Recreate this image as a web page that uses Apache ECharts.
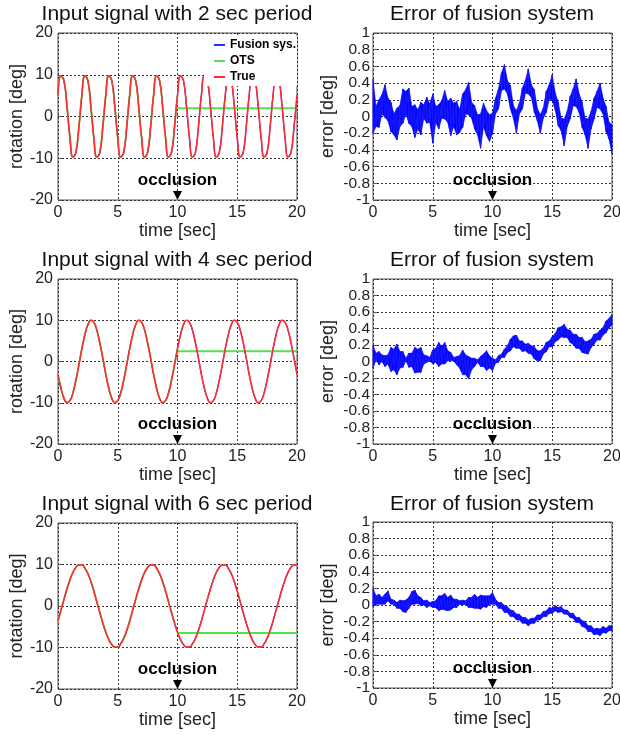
<!DOCTYPE html>
<html>
<head>
<meta charset="utf-8">
<title>Fusion system</title>
<script src="https://cdn.jsdelivr.net/npm/echarts@6/dist/echarts.min.js"></script>
<style>
html, body { margin: 0; padding: 0; background: #fff; }
#main { width: 620px; height: 735px; }
</style>
</head>
<body>
<div id="main"></div>
<script>
// samples every 0.25 s from 0 to 20 s
var sampleStep = 0.25;
var occlusionTime = 10;

// true rotation [deg]
var true2s = [
    5.1, 9.7, 8.6, 2.5, -5.1, -9.7, -8.6, -2.5,
    5.1, 9.7, 8.6, 2.5, -5.1, -9.7, -8.6, -2.5,
    5.1, 9.7, 8.6, 2.5, -5.1, -9.7, -8.6, -2.5,
    5.1, 9.7, 8.6, 2.5, -5.1, -9.7, -8.6, -2.5,
    5.1, 9.7, 8.6, 2.5, -5.1, -9.7, -8.6, -2.5,
    5.1, 9.7, 8.6, 2.5, -5.1, -9.7, -8.6, -2.5,
    5.1, 9.7, 8.6, 2.5, -5.1, -9.7, -8.6, -2.5,
    5.1, 9.7, 8.6, 2.5, -5.1, -9.7, -8.6, -2.5,
    5.1, 9.7, 8.6, 2.5, -5.1, -9.7, -8.6, -2.5,
    5.1, 9.7, 8.6, 2.5, -5.1, -9.7, -8.6, -2.5,
    5.1
];
var true4s = [
    -3.1, -6.5, -8.9, -10.0, -9.5, -7.6, -4.5, -0.8, 3.1, 6.5, 8.9, 10.0, 9.5, 7.6, 4.5, 0.8,
    -3.1, -6.5, -8.9, -10.0, -9.5, -7.6, -4.5, -0.8, 3.1, 6.5, 8.9, 10.0, 9.5, 7.6, 4.5, 0.8,
    -3.1, -6.5, -8.9, -10.0, -9.5, -7.6, -4.5, -0.8, 3.1, 6.5, 8.9, 10.0, 9.5, 7.6, 4.5, 0.8,
    -3.1, -6.5, -8.9, -10.0, -9.5, -7.6, -4.5, -0.8, 3.1, 6.5, 8.9, 10.0, 9.5, 7.6, 4.5, 0.8,
    -3.1, -6.5, -8.9, -10.0, -9.5, -7.6, -4.5, -0.8, 3.1, 6.5, 8.9, 10.0, 9.5, 7.6, 4.5, 0.8,
    -3.1
];
var true6s = [
    -3.6, -1.0, 1.6, 4.1, 6.3, 8.1, 9.3, 9.9, 9.9, 9.1, 7.8, 5.9,
    3.6, 1.0, -1.6, -4.1, -6.3, -8.1, -9.3, -9.9, -9.9, -9.1, -7.8, -5.9,
    -3.6, -1.0, 1.6, 4.1, 6.3, 8.1, 9.3, 9.9, 9.9, 9.1, 7.8, 5.9,
    3.6, 1.0, -1.6, -4.1, -6.3, -8.1, -9.3, -9.9, -9.9, -9.1, -7.8, -5.9,
    -3.6, -1.0, 1.6, 4.1, 6.3, 8.1, 9.3, 9.9, 9.9, 9.1, 7.8, 5.9,
    3.6, 1.0, -1.6, -4.1, -6.3, -8.1, -9.3, -9.9, -9.9, -9.1, -7.8, -5.9,
    -3.6, -1.0, 1.6, 4.1, 6.3, 8.1, 9.3, 9.9, 9.9
];
// value the OTS keeps after the occlusion starts
var otsHold = [2.0, 2.5, -6.5];

// error of fusion system [deg]: upper / lower edge of the noise band
var err2sHi = [
    0.45, 0.12, 0.20, 0.26, 0.38, 0.22, 0.17, 0.03,
    0.10, 0.13, 0.33, 0.30, 0.34, 0.12, 0.14, 0.08,
    0.17, 0.14, 0.23, 0.15, 0.27, 0.12, 0.14, 0.19,
    0.31, 0.18, 0.22, 0.16, 0.18, 0.08, 0.27, 0.32,
    0.41, 0.17, 0.13, 0.02, 0.03, 0.16, 0.07, 0.02,
    0.04, 0.22, 0.33, 0.52, 0.62, 0.43, 0.37, 0.13,
    0.07, 0.16, 0.34, 0.43, 0.57, 0.38, 0.32, 0.10,
    0.02, 0.10, 0.30, 0.38, 0.50, 0.28, 0.17, -0.02,
    -0.03, 0.06, 0.24, 0.33, 0.45, 0.27, 0.17, -0.02,
    -0.03, 0.06, 0.22, 0.30, 0.40, 0.22, 0.12, -0.07,
    -0.10
];
var err2sLo = [
    -0.20, -0.12, -0.13, 0.03, -0.01, -0.05, -0.18, -0.22,
    -0.28, -0.12, -0.08, 0.03, -0.08, -0.12, -0.25, -0.15,
    -0.22, -0.02, -0.08, -0.07, -0.32, -0.07, -0.15, -0.02,
    -0.03, -0.07, -0.23, -0.12, -0.22, -0.19, -0.13, 0.03,
    0.02, -0.02, -0.15, -0.22, -0.38, -0.12, -0.23, -0.30,
    -0.20, 0.03, 0.09, 0.31, 0.33, 0.27, 0.09, -0.02,
    -0.20, 0.03, 0.09, 0.28, 0.27, 0.23, 0.05, -0.05,
    -0.20, -0.02, 0.05, 0.21, 0.19, 0.08, -0.11, -0.17,
    -0.35, -0.12, -0.03, 0.13, 0.12, 0.05, -0.13, -0.22,
    -0.38, -0.15, -0.03, 0.11, 0.09, 0.03, -0.18, -0.27,
    -0.45
];
var err4sHi = [
    0.20, 0.10, 0.12, 0.08, 0.07, 0.08, 0.17, 0.15,
    0.21, 0.12, 0.12, 0.04, 0.10, 0.10, 0.17, 0.15,
    0.17, 0.08, 0.07, 0.05, 0.14, 0.16, 0.23, 0.18,
    0.23, 0.13, 0.11, 0.05, 0.06, 0.07, 0.14, 0.08,
    0.06, 0.04, 0.04, 0.02, 0.06, 0.09, 0.13, 0.07,
    0.04, 0.02, 0.07, 0.09, 0.15, 0.19, 0.27, 0.31,
    0.32, 0.25, 0.25, 0.21, 0.22, 0.19, 0.18, 0.13,
    0.13, 0.16, 0.23, 0.25, 0.30, 0.34, 0.41, 0.42,
    0.45, 0.39, 0.38, 0.33, 0.33, 0.29, 0.29, 0.24,
    0.25, 0.27, 0.33, 0.34, 0.38, 0.41, 0.49, 0.52,
    0.57
];
var err4sLo = [
    -0.08, 0.02, -0.04, 0.00, -0.06, -0.03, -0.12, -0.10,
    -0.16, -0.08, -0.07, 0.01, -0.07, -0.06, -0.14, -0.13,
    -0.13, -0.03, -0.01, 0.01, -0.03, -0.01, -0.06, -0.03,
    -0.03, 0.01, 0.01, 0.01, -0.04, -0.08, -0.16, -0.16,
    -0.21, -0.10, -0.06, -0.01, -0.06, -0.06, -0.11, -0.08,
    -0.11, -0.02, -0.01, 0.05, 0.05, 0.11, 0.13, 0.18,
    0.16, 0.16, 0.12, 0.13, 0.10, 0.09, 0.03, 0.01,
    0.01, 0.09, 0.12, 0.18, 0.18, 0.24, 0.26, 0.30,
    0.29, 0.29, 0.23, 0.21, 0.16, 0.16, 0.11, 0.10,
    0.09, 0.17, 0.21, 0.26, 0.26, 0.32, 0.35, 0.41,
    0.44
];
var err6sHi = [
    0.20, 0.11, 0.13, 0.09, 0.13, 0.17, 0.07, 0.06,
    0.03, 0.06, 0.05, 0.06, 0.09, 0.16, 0.18, 0.11,
    0.09, 0.05, 0.06, 0.03, 0.04, 0.05, 0.11, 0.11,
    0.14, 0.09, 0.12, 0.07, 0.07, 0.05, 0.06, 0.05,
    0.09, 0.09, 0.13, 0.09, 0.12, 0.11, 0.11, 0.11,
    0.15, 0.07, 0.03, 0.03, -0.01, -0.02, -0.06, -0.07,
    -0.11, -0.11, -0.15, -0.15, -0.18, -0.16, -0.16, -0.12,
    -0.12, -0.08, -0.07, -0.03, -0.04, -0.01, -0.03, -0.02,
    -0.06, -0.06, -0.10, -0.10, -0.15, -0.15, -0.19, -0.20,
    -0.25, -0.25, -0.29, -0.28, -0.29, -0.26, -0.28, -0.25,
    -0.25
];
var err6sLo = [
    -0.02, 0.01, 0.01, 0.01, 0.01, 0.05, 0.01, 0.01,
    -0.04, -0.04, -0.08, -0.09, -0.04, 0.01, 0.01, 0.02,
    -0.01, 0.00, -0.03, -0.01, -0.03, -0.03, -0.07, -0.05,
    -0.06, -0.07, -0.06, -0.03, -0.03, 0.01, 0.00, 0.01,
    -0.03, -0.03, -0.04, -0.04, -0.05, -0.02, -0.03, 0.01,
    0.01, 0.01, -0.04, -0.04, -0.09, -0.09, -0.14, -0.14,
    -0.18, -0.18, -0.22, -0.22, -0.25, -0.22, -0.22, -0.18,
    -0.18, -0.14, -0.14, -0.10, -0.10, -0.07, -0.09, -0.08,
    -0.11, -0.11, -0.15, -0.16, -0.21, -0.21, -0.26, -0.27,
    -0.32, -0.32, -0.36, -0.35, -0.37, -0.33, -0.34, -0.31,
    -0.31
];

var titles = [
    'Input signal with 2 sec period', 'Error of fusion system',
    'Input signal with 4 sec period', 'Error of fusion system',
    'Input signal with 6 sec period', 'Error of fusion system'
];
var legendNames = ['Fusion sys.', 'OTS', 'True'];
var xTicks = { min: 0, max: 20, interval: 5 };
var rotTicks = { min: -20, max: 20, interval: 10 };
var errTicks = { min: -1, max: 1, interval: 0.2 };

var FONT = 'Liberation Sans, Arial, Helvetica, sans-serif';
var BLUE = '#2b2bff', GREEN = '#4fe34f', RED = '#ff2d2d';

var times = true2s.map(function (v, i) { return i * sampleStep; });

function pairs(ys) {
    return ys.map(function (v, i) { return [times[i], v]; });
}
function beforeOcclusion(ys) {
    var out = [];
    ys.forEach(function (v, i) {
        if (times[i] <= occlusionTime) out.push([times[i], v]);
    });
    return out;
}
// noise: go down and up between the two edges at every sample
function zigzag(hi, lo) {
    var out = [];
    hi.forEach(function (v, i) {
        out.push([times[i], v]);
        out.push([times[i], lo[i]]);
    });
    return out;
}
// one quad of the filled band per sample step
function bandCells(hi, lo) {
    var out = [];
    for (var i = 0; i < hi.length - 1; i++) {
        out.push([times[i], hi[i], lo[i], times[i + 1], hi[i + 1], lo[i + 1]]);
    }
    return out;
}
function renderBand(params, api) {
    var a = api.coord([api.value(0), api.value(1)]);
    var b = api.coord([api.value(3), api.value(4)]);
    var c = api.coord([api.value(3), api.value(5)]);
    var d = api.coord([api.value(0), api.value(2)]);
    return {
        type: 'polygon',
        shape: { points: [a, b, c, d] },
        style: { fill: '#0000ff', stroke: '#0000ff', lineWidth: 0.6 }
    };
}

var myChart = echarts.init(document.getElementById('main'));

var gridBoxes = [
    { left: 58, top: 33, height: 167 }, { left: 373, top: 33, height: 167 },
    { left: 58, top: 279, height: 165 }, { left: 373, top: 279, height: 165 },
    { left: 58, top: 523, height: 166 }, { left: 373, top: 522, height: 166 }
];
var titleTops = [4, 4, 250, 250, 494, 494];

function occlusionMark(y) {
    return {
        silent: true,
        symbol: 'path://M0,0 L10,0 L5,10 Z',
        symbolSize: [9, 9],
        itemStyle: { color: '#000' },
        label: {
            show: true, position: 'top', distance: 2, formatter: 'occlusion',
            color: '#000', fontWeight: 'bold', fontSize: 17, fontFamily: FONT
        },
        data: [{ coord: [occlusionTime, y] }]
    };
}

function lineSeries(name, k, data, color, width, smooth) {
    return {
        name: name, type: 'line', xAxisIndex: k, yAxisIndex: k,
        data: data, smooth: smooth, showSymbol: false, silent: true,
        lineStyle: { color: color, width: width },
        itemStyle: { color: color }
    };
}

var truths = [true2s, true4s, true6s];
var errHi = [err2sHi, err4sHi, err6sHi];
var errLo = [err2sLo, err4sLo, err6sLo];

var series = [];
for (var r = 0; r < 3; r++) {
    var kl = r * 2, kr = r * 2 + 1;
    series.push(lineSeries('Fusion sys.', kl, pairs(truths[r]), BLUE, 1.2, true));
    series.push(lineSeries('OTS', kl, beforeOcclusion(truths[r]), GREEN, 1.6, true));
    series.push(lineSeries('OTS', kl, [[occlusionTime, otsHold[r]], [times[times.length - 1], otsHold[r]]], GREEN, 2, false));
    var tr = lineSeries('True', kl, pairs(truths[r]), RED, 1.6, true);
    tr.markPoint = occlusionMark(-18.9);
    series.push(tr);
    series.push({
        name: 'Error band', type: 'custom', xAxisIndex: kr, yAxisIndex: kr,
        coordinateSystem: 'cartesian2d', silent: true, clip: true,
        encode: { x: [0, 3], y: [1, 2, 4, 5] },
        renderItem: renderBand,
        data: bandCells(errHi[r], errLo[r])
    });
    var er = lineSeries('Error', kr, zigzag(errHi[r], errLo[r]), '#1a1aff', 1, false);
    er.markPoint = occlusionMark(-0.946);
    series.push(er);
}

var axisText = { color: '#222', fontFamily: FONT };

var option = {
    animation: false,
    backgroundColor: '#fff',
    title: titles.map(function (t, k) {
        return {
            text: t,
            left: k % 2 === 0 ? 177 : 492,
            top: titleTops[k],
            textAlign: 'center',
            padding: 0,
            textStyle: { fontSize: 21, fontWeight: 'normal', color: '#111', fontFamily: FONT }
        };
    }),
    legend: {
        data: legendNames,
        orient: 'vertical',
        left: 204,
        top: 36,
        padding: [3, 1, 3, 10],
        itemGap: 4,
        itemWidth: 11,
        itemHeight: 2,
        icon: 'rect',
        selectedMode: false,
        backgroundColor: '#fff',
        textStyle: { fontSize: 12, fontWeight: 'bold', color: '#000', fontFamily: FONT }
    },
    grid: gridBoxes.map(function (g) {
        return {
            left: g.left, top: g.top, width: 239, height: g.height,
            show: true, borderColor: '#555', borderWidth: 1, backgroundColor: '#fff',
            containLabel: false, outerBoundsMode: 'none'
        };
    }),
    xAxis: gridBoxes.map(function (g, k) {
        return {
            type: 'value', gridIndex: k,
            min: xTicks.min, max: xTicks.max, interval: xTicks.interval,
            name: 'time [sec]', nameLocation: 'middle', nameGap: 22,
            nameTextStyle: { fontSize: 18, color: '#222', fontFamily: FONT },
            axisLine: { show: false },
            axisTick: { show: true, inside: true, length: 4, lineStyle: { color: '#555' } },
            axisLabel: Object.assign({ fontSize: 16, margin: 5 }, axisText),
            splitLine: { show: true, lineStyle: { color: '#333', width: 1, type: [2, 2] } }
        };
    }),
    yAxis: gridBoxes.map(function (g, k) {
        var isErr = k % 2 === 1;
        var ticks = isErr ? errTicks : rotTicks;
        return {
            type: 'value', gridIndex: k,
            min: ticks.min, max: ticks.max, interval: ticks.interval,
            name: isErr ? 'error [deg]' : 'rotation [deg]',
            nameLocation: 'middle', nameGap: isErr ? 36 : 23,
            nameTextStyle: { fontSize: 18, color: '#222', fontFamily: FONT },
            axisLine: { show: false },
            axisTick: { show: true, inside: true, length: 4, lineStyle: { color: '#555' } },
            axisLabel: Object.assign({ fontSize: isErr ? 15.5 : 16, margin: isErr ? 3 : 5 }, axisText),
            splitLine: { show: true, lineStyle: { color: '#333', width: 1, type: [2, 2] } }
        };
    }),
    series: series
};
myChart.setOption(option);
window.addEventListener('resize', function () {
    myChart.resize();
});
</script>
</body>
</html>
